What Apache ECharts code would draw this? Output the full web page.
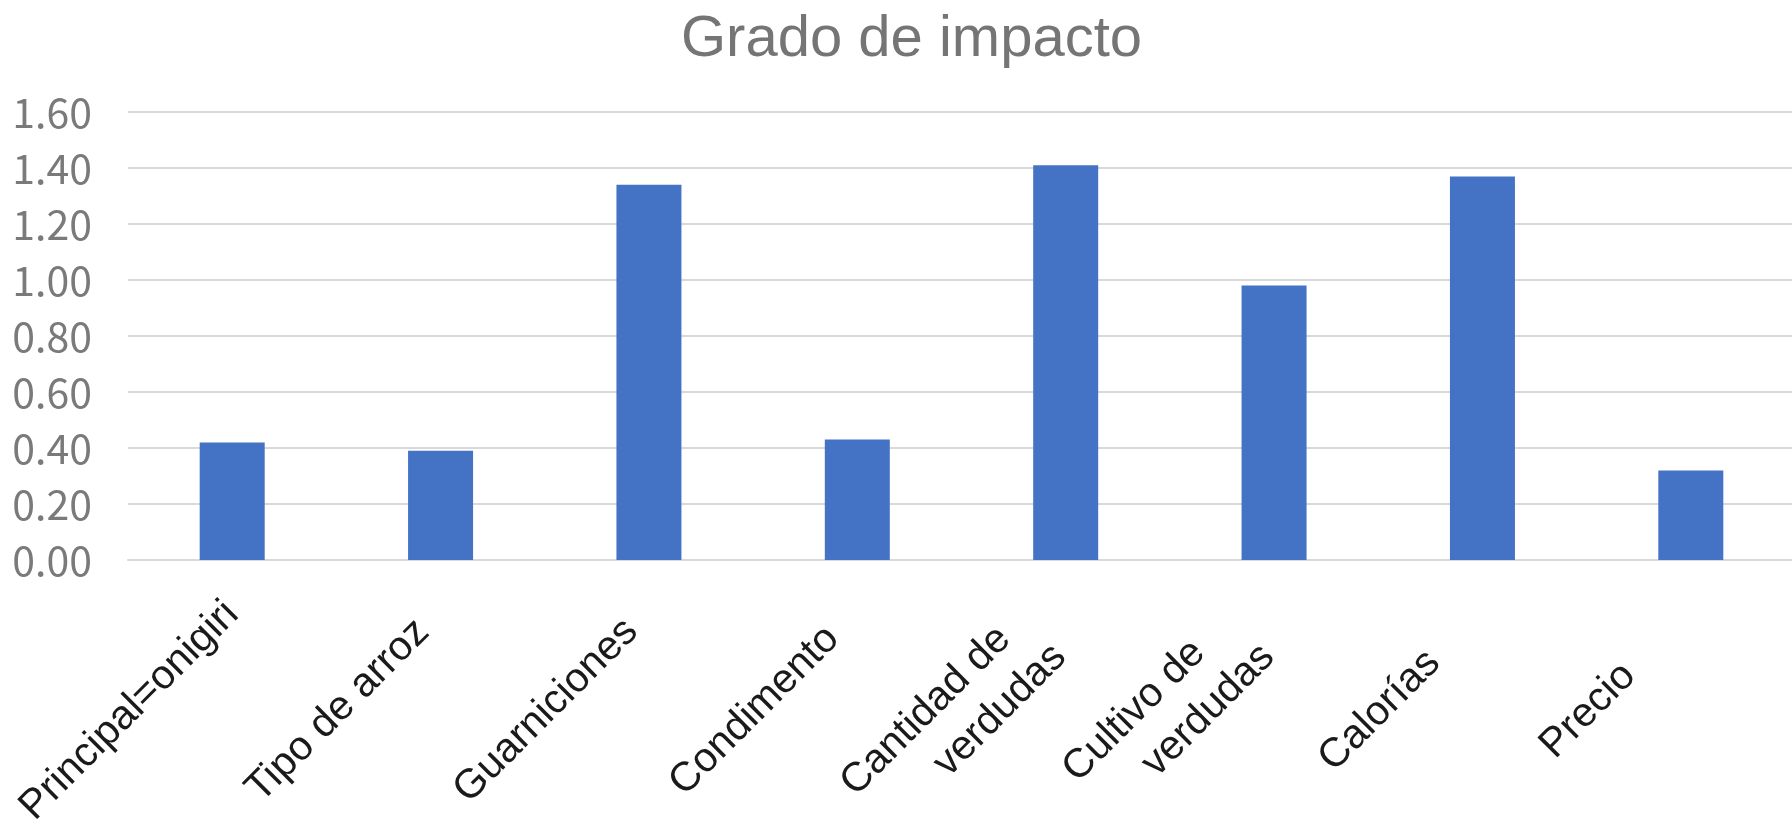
<!DOCTYPE html>
<html>
<head>
<meta charset="utf-8">
<script src="https://cdn.jsdelivr.net/npm/echarts@6/dist/echarts.min.js"></script>
<style>
  html, body { margin: 0; padding: 0; background: #fff; }
  #chart { width: 1792px; height: 819px; }
</style>
</head>
<body>
<div id="chart"></div>
<script>
// categorias y valores
var categories = ['Principal=onigiri', 'Tipo de arroz', 'Guarniciones', 'Condimento',
  'Cantidad de\nverdudas', 'Cultivo de\nverdudas', 'Calorías', 'Precio'];
var impacto = [0.42, 0.39, 1.34, 0.43, 1.41, 0.98, 1.37, 0.32];
var yTicks = [0, 0.2, 0.4, 0.6, 0.8, 1.0, 1.2, 1.4, 1.6];

var labelFont = 41;
var labelFamily = 'Liberation Sans';
var labelColor = '#1a1a1a';

// como en Excel: cada etiqueta girada se centra en una caja del ancho de la mas larga
var ctx = document.createElement('canvas').getContext('2d');
ctx.font = labelFont + 'px "' + labelFamily + '"';
var lineSets = categories.map(function (c) { return c.split('\n'); });
var maxW = 0;
lineSets.forEach(function (ls) {
  ls.forEach(function (t) { maxW = Math.max(maxW, ctx.measureText(t).width); });
});
var rich = {};
lineSets.forEach(function (ls, i) {
  ls.forEach(function (t, j) {
    var s = (j - (ls.length - 1) / 2) * 53;
    var pad = maxW / 2 - s - ctx.measureText(t).width / 2;
    rich['c' + i + 'l' + j] = {
      fontSize: labelFont,
      fontFamily: labelFamily,
      color: labelColor,
      lineHeight: 52,
      padding: [0, Math.max(0, pad), 0, 0]
    };
  });
});

var myChart = echarts.init(document.getElementById('chart'));

var option = {
  animation: false,
  title: {
    text: 'Grado de impacto',
    left: 676,
    top: 6,
    textStyle: {
      color: '#757575',
      fontSize: 58,
      fontWeight: 'normal',
      fontFamily: 'Liberation Sans'
    }
  },
  grid: {
    left: 128,
    top: 112,
    width: 1667,
    height: 448,
    containLabel: false,
    outerBoundsMode: 'none'
  },
  xAxis: {
    type: 'category',
    data: categories,
    axisLine: { lineStyle: { color: '#d9d9d9', width: 2 } },
    axisTick: { show: false },
    axisLabel: {
      interval: 0,
      rotate: 45,
      margin: 48,
      hideOverlap: false,
      color: labelColor,
      fontSize: labelFont,
      fontFamily: labelFamily,
      formatter: function (v, idx) {
        return lineSets[idx].map(function (t, j) {
          return '{c' + idx + 'l' + j + '|' + t + '}';
        }).join('\n');
      },
      rich: rich
    }
  },
  yAxis: {
    type: 'value',
    min: yTicks[0],
    max: yTicks[yTicks.length - 1],
    interval: 0.2,
    axisLine: { show: false },
    axisTick: { show: false },
    splitLine: { lineStyle: { color: '#d9d9d9', width: 2 } },
    axisLabel: {
      margin: 36,
      color: '#7a7a7a',
      fontSize: 41,
      fontFamily: 'Noto Sans CJK JP',
      formatter: function (v) { return v.toFixed(2); }
    }
  },
  series: [{
    name: 'Grado de impacto',
    type: 'bar',
    data: impacto,
    barWidth: 65,
    itemStyle: { color: '#4472c4' }
  }]
};

myChart.setOption(option);
</script>
</body>
</html>
